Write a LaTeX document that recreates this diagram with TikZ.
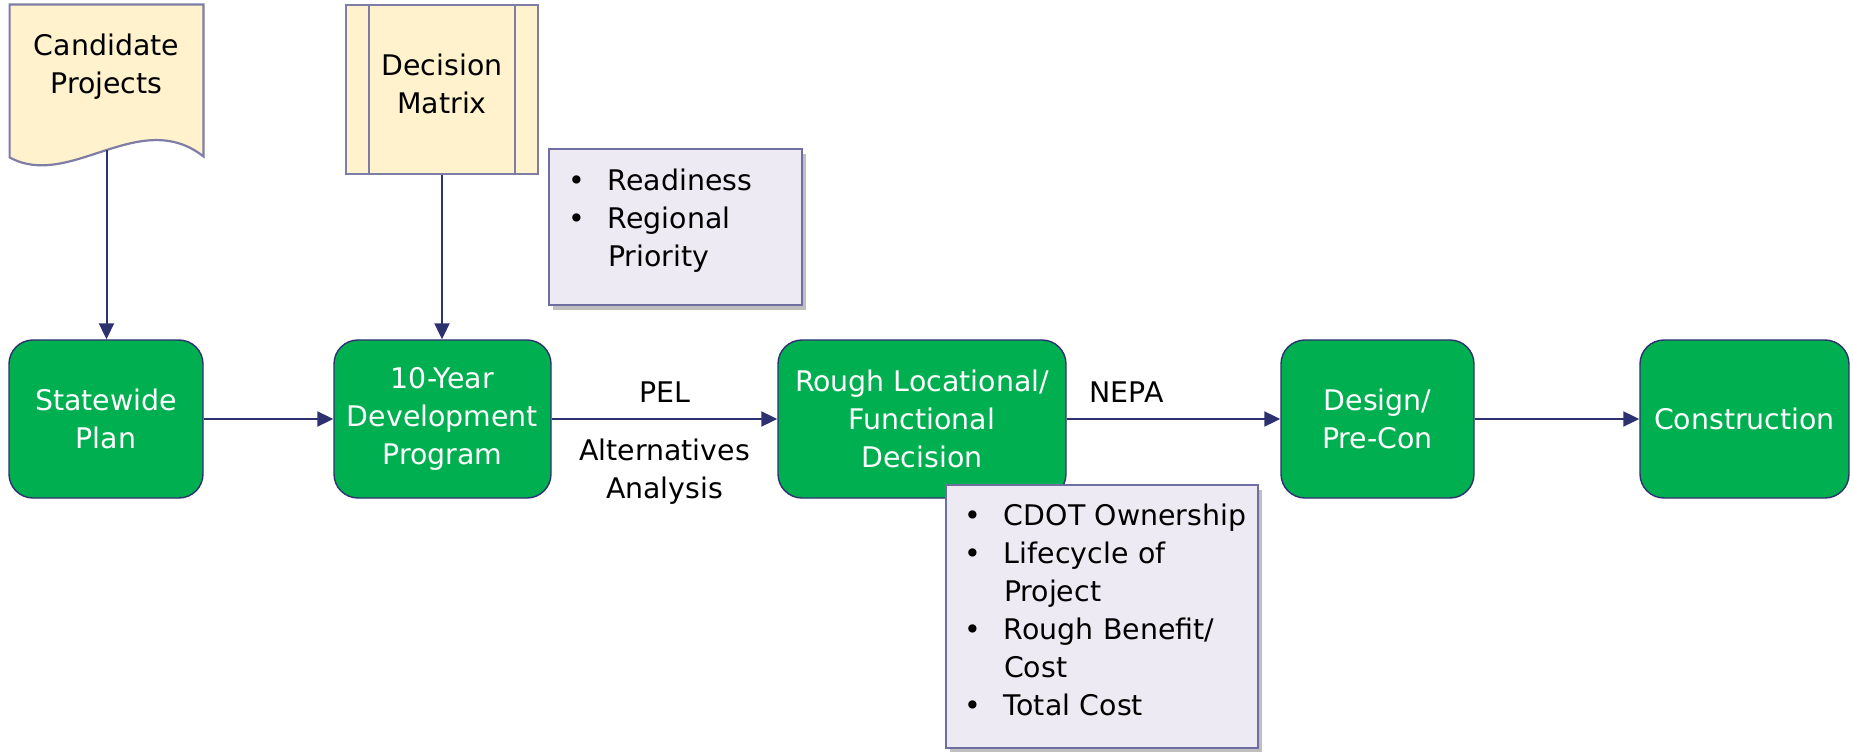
\documentclass[tikz,border=0pt]{standalone}
\usepackage{fontspec}
\setmainfont{DejaVu Sans}
\usepackage{array}
\usetikzlibrary{arrows.meta,calc,shadows,backgrounds}
\definecolor{stepgreen}{RGB}{0,176,80}
\definecolor{flowline}{RGB}{46,49,112}
\definecolor{docfill}{RGB}{255,242,204}
\definecolor{docline}{RGB}{125,125,165}
\definecolor{listfill}{RGB}{237,234,243}
\definecolor{listline}{RGB}{110,110,160}
\newcommand{\critlist}[1]{\begin{tabular}{@{}p{20pt}@{}l@{}}#1\end{tabular}}

\begin{document}
\begin{tikzpicture}[x=0.5pt, y=0.5pt, node font=\fontsize{14.2}{19}\selectfont,
	stagebox/.style={draw=flowline, line width=0.7pt, fill=stepgreen, text=white, rounded corners=12pt, align=center, minimum height=79pt, inner sep=2pt},
	docbox/.style={draw=docline, line width=1.1pt, fill=docfill},
	listbox/.style={draw=listline, line width=0.8pt, fill=listfill, inner ysep=0pt, drop shadow={shadow xshift=2pt, shadow yshift=-2.5pt, fill=black, opacity=0.25}},
	flowarrow/.style={draw=flowline, line width=1pt, -{Triangle[length=8pt,width=7.5pt]}}]
			\useasboundingbox (0,0) rectangle (1853,751);
			
			\node[minimum width=96.5pt, minimum height=61.5pt, align=center] (cand) at (106.5,684.5) {Candidate\\Projects};
			\begin{scope}[on background layer]
				\draw[docbox] ($(cand.south west)+(0,-29)$) -- (cand.north west) -- (cand.north east) -- ($(cand.south east)+(0,-28)$) .. controls ($(cand.south west)+(130,22)$) and ($(cand.south west)+(60,-62)$) .. ($(cand.south west)+(0,-29)$) -- cycle;
			\end{scope}
			\node[docbox, minimum width=96pt, minimum height=84.5pt] (mat) at (442,661.5) {};
			\node[align=center] (matlabel) at ([yshift=3pt]mat.center) {Decision\\Matrix};
			\draw[docbox] ([xshift=12pt]mat.north west) -- ([xshift=12pt]mat.south west);
			\draw[docbox] ([xshift=-12pt]mat.north east) -- ([xshift=-12pt]mat.south east);
			
			\node[stagebox, minimum width=97pt] (plan) at (106,332) {Statewide\\Plan};
			\node[stagebox, minimum width=108.5pt] (dev) at (442.5,332) {10-Year\\Development\\Program};
			\node[stagebox, minimum width=144pt] (rough) at (922,332) {Rough Locational/\\Functional\\Decision};
			\node[stagebox, minimum width=96.5pt] (design) at (1377.5,332) {Design/\\Pre-Con};
			\node[stagebox, minimum width=104.5pt] (constr) at (1744.5,332) {Construction};
			
			\node[listbox, text width=107.5pt, inner xsep=9.5pt, minimum height=78pt] (ready) at (675.5,524) {\critlist{\textbullet & Readiness\\ \textbullet & Regional\\ & Priority\\[6pt]}};
			\node[listbox, text width=138pt, inner xsep=9pt, minimum height=131.5pt] (crit) at (1102,134.5) {\critlist{\textbullet & CDOT Ownership\\ \textbullet & Lifecycle of\\ & Project\\ \textbullet & Rough Benefit/\\ & Cost\\ \textbullet & Total Cost\\[4pt]}};
			
			\coordinate (candfoot) at ($(cand.south)+(0,-22)$);
			\draw[flowarrow] (candfoot) -- (candfoot |- plan.north);
			\draw[flowarrow] (mat.south) -- (mat.south |- dev.north);
			\draw[flowarrow] (plan) -- (dev);
			\draw[flowarrow] (dev) -- node[yshift=13.5pt] {PEL} node[yshift=-26.5pt, align=center] {Alternatives\\Analysis} (rough);
			\draw[flowarrow] (rough) -- node[pos=0.28, yshift=13.5pt] {NEPA} (design);
			\draw[flowarrow] (design) -- (constr);
		\end{tikzpicture}
\end{document}
